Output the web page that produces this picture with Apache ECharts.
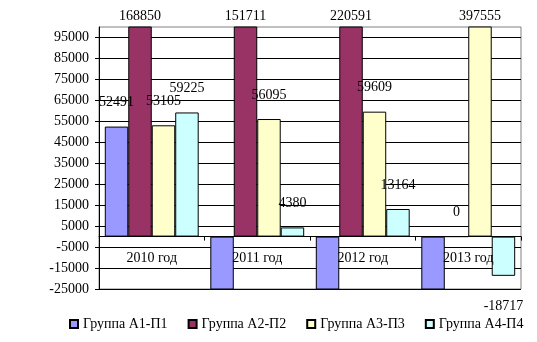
<!DOCTYPE html>
<html>
<head>
<meta charset="utf-8">
<script src="https://cdn.jsdelivr.net/npm/echarts@6/dist/echarts.min.js"></script>
<style>
  html, body { margin: 0; padding: 0; background: #fff; }
  #chart { width: 537px; height: 342px; }
</style>
</head>
<body>
<div id="chart"></div>
<script>
// Years on the category axis
var categories = ['2010 год', '2011 год', '2012 год', '2013 год'];

// Group differences per year (values below the axis floor run off the plot)
var groupA1 = [52491, -32000, -36000, -41000];
var groupA2 = [168850, 151711, 220591, 0];
var groupA3 = [53105, 56095, 59609, 397555];
var groupA4 = [59225, 4380, 13164, -18717];

var seriesNames = ['Группа А1-П1', 'Группа А2-П2', 'Группа А3-П3', 'Группа А4-П4'];

// Value axis range and labelled ticks
var yMin = -25000;
var yMax = 100000;
var yTicks = [-25000, -15000, -5000, 5000, 15000, 25000, 35000, 45000, 55000, 65000, 75000, 85000, 95000];

var colors = ['#9999FF', '#993366', '#FFFFCC', '#CCFFFF'];
var FONT = 'Liberation Serif';

// Per-bar labels: above positive bars, below negative ones; bars that run past
// the axis range keep their label next to the clipped end (or hide it below).
function makeData(values) {
  return values.map(function (v) {
    var over = v > yMax;
    var under = v < yMin;
    return {
      value: v,
      label: {
        show: !under,
        position: v >= 0 ? 'top' : 'bottom',
        distance: over ? 3 : (v >= 0 ? 17 : 23)
      }
    };
  });
}

var allSeries = [groupA1, groupA2, groupA3, groupA4].map(function (vals, i) {
  return {
    name: seriesNames[i],
    type: 'bar',
    data: makeData(vals),
    barGap: '0%',
    barCategoryGap: '11%',
    clip: true,
    itemStyle: { color: colors[i], borderColor: '#000', borderWidth: 1 },
    label: { color: '#000', fontFamily: FONT, fontSize: 14 },
    emphasis: { disabled: true }
  };
});

var chart = echarts.init(document.getElementById('chart'), null, { renderer: 'canvas' });
chart.setOption({
  animation: false,
  backgroundColor: '#fff',
  grid: {
    left: 99, right: 16, top: 27, bottom: 53,
    show: true, borderColor: '#808080', borderWidth: 1, backgroundColor: 'transparent'
  },
  legend: {
    left: 69, top: 317, padding: 0,
    itemWidth: 8, itemHeight: 8, itemGap: 20,
    icon: 'rect',
    textStyle: { color: '#000', fontFamily: FONT, fontSize: 14 },
    data: seriesNames
  },
  xAxis: {
    type: 'category',
    data: categories,
    z: 5,
    axisLine: { onZero: true, lineStyle: { color: '#000', width: 1 } },
    axisTick: { show: true, length: 4, lineStyle: { color: '#000' } },
    // labels sit just under the zero line
    axisLabel: { color: '#000', fontFamily: FONT, fontSize: 14, margin: -38 },
    splitLine: { show: false }
  },
  yAxis: {
    type: 'value',
    min: yMin,
    max: yMax,
    axisLine: { show: true, lineStyle: { color: '#000', width: 1 } },
    axisTick: { show: true, length: 4, customValues: yTicks, lineStyle: { color: '#000' } },
    axisLabel: {
      color: '#000', fontFamily: FONT, fontSize: 14, margin: 10, customValues: yTicks,
      formatter: function (v) { return String(v); }
    },
    splitLine: { show: true, lineStyle: { color: '#000', width: 1 } }
  },
  series: allSeries
});
</script>
</body>
</html>
